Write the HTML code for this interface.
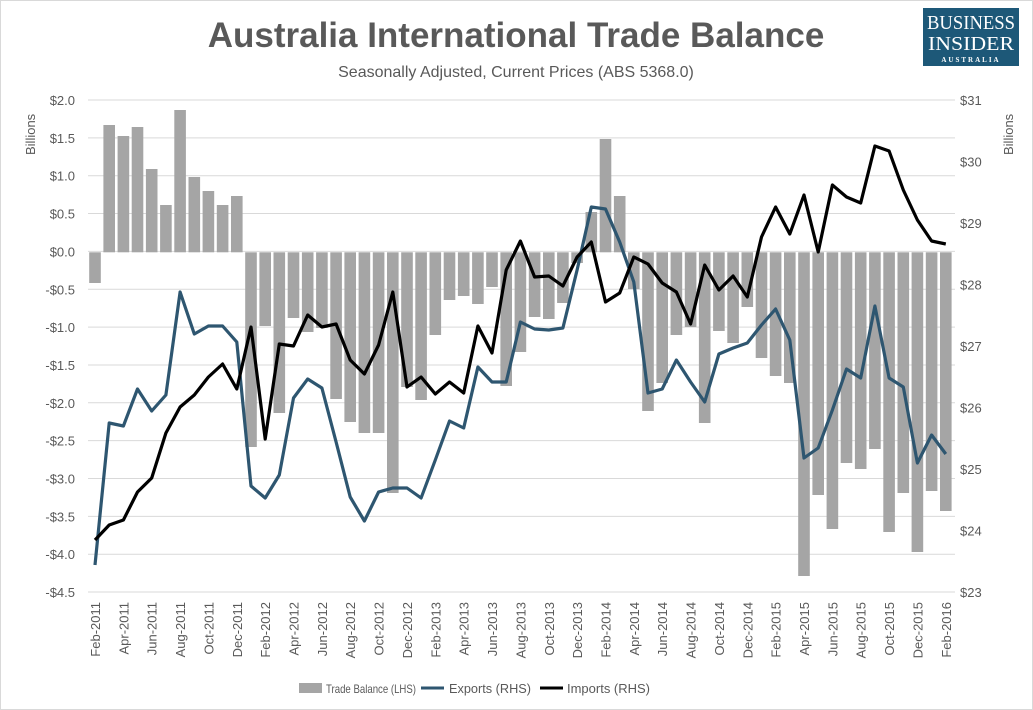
<!DOCTYPE html>
<html><head><meta charset="utf-8"><style>
html,body{margin:0;padding:0;background:#fff;}
svg{display:block;font-family:"Liberation Sans",sans-serif;}
</style></head><body>
<svg id="c" width="1033" height="710" viewBox="0 0 1033 710" xmlns="http://www.w3.org/2000/svg">
<rect x="0.5" y="0.5" width="1032" height="709" fill="#fff" stroke="#d9d9d9"/>
<text x="516" y="47" text-anchor="middle" font-size="35" font-weight="bold" fill="#595959">Australia International Trade Balance</text>
<text x="516" y="77" text-anchor="middle" font-size="16" fill="#595959">Seasonally Adjusted, Current Prices (ABS 5368.0)</text>
<rect x="923" y="8" width="96" height="58" fill="#1d5878"/>
<text x="971" y="29" text-anchor="middle" font-family="Liberation Serif,serif" font-size="20" textLength="88" lengthAdjust="spacingAndGlyphs" fill="#fff">BUSINESS</text>
<text x="971" y="50" text-anchor="middle" font-family="Liberation Serif,serif" font-size="20" textLength="86" lengthAdjust="spacingAndGlyphs" fill="#fff">INSIDER</text>
<text x="971" y="62" text-anchor="middle" font-family="Liberation Serif,serif" font-size="7" letter-spacing="2" font-weight="bold" fill="#fff">AUSTRALIA</text>
<text transform="translate(35,155) rotate(-90)" font-size="13" fill="#595959">Billions</text>
<text transform="translate(1013,155) rotate(-90)" font-size="13" fill="#595959">Billions</text>
<g id="g"></g>
<g font-size="13" fill="#595959">
<rect x="299" y="683" width="23" height="10" fill="#a5a5a5"/><text x="326" y="693" font-size="12" textLength="90" lengthAdjust="spacingAndGlyphs">Trade Balance (LHS)</text>
<line x1="421" y1="688" x2="444" y2="688" stroke="#2e5670" stroke-width="3"/><text x="449" y="693" textLength="82" lengthAdjust="spacingAndGlyphs">Exports (RHS)</text>
<line x1="540" y1="688" x2="563" y2="688" stroke="#000" stroke-width="3"/><text x="567" y="693" textLength="83" lengthAdjust="spacingAndGlyphs">Imports (RHS)</text>
</g>
</svg>
<script>
var g=document.getElementById('g'),h='';
var L=['$2.0','$1.5','$1.0','$0.5','$0.0','-$0.5','-$1.0','-$1.5','-$2.0','-$2.5','-$3.0','-$3.5','-$4.0','-$4.5'];
for(var k=0;k<14;k++){var y=100+k*37.85;h+='<line x1="88" x2="955" y1="'+y+'" y2="'+y+'" stroke="#d9d9d9"/>';
h+='<text x="75" y="'+(y+5)+'" text-anchor="end" font-size="13" fill="#595959">'+L[k]+'</text>';}
for(var k=0;k<9;k++){var y=100+k*61.5;h+='<text x="960" y="'+(y+5)+'" font-size="13" fill="#595959">$'+(31-k)+'</text>';}
var B=[283,125,136,127,169,205,110,177,191,205,196,447,326,413,318,332,328,399,422,433,433,493,387,400,335,300,296,304,287,386,352,317,319,303,263,212,139,196,289,411,383,335,327,423,331,343,307,358,376,383,576,495,529,463,469,449,532,493,552,491,511];
var E=[565,423,426,389,411,395,292,334,326,326,342,486,498,475,398,379,388,442,497,521,492,488,488,498,460,421,428,367,382,382,322,329,330,328,270,207,209,242,282,393,389,360,382,402,354,348,343,325,309,340,458,448,410,369,378,306,378,387,463,435,454];
var I=[540,525,520,492,478,433,407,395,377,364,389,327,439,344,346,315,327,324,360,374,345,292,387,377,394,382,393,326,353,270,241,277,276,286,257,242,302,293,257,264,283,292,324,265,290,276,297,237,207,234,195,252,185,197,203,146,151,190,220,241,244];
var z=252.3,M=['Feb','Mar','Apr','May','Jun','Jul','Aug','Sep','Oct','Nov','Dec','Jan'];
for(var i=0;i<61;i++){var x=95+i*14.18,t=Math.min(B[i],z),hh=Math.abs(B[i]-z);
h+='<rect x="'+(x-5.8).toFixed(1)+'" y="'+t+'" width="11.6" height="'+hh.toFixed(1)+'" fill="#a5a5a5"/>';}
function pl(a,c){var p=a.map(function(v,i){return (95+i*14.18).toFixed(1)+','+v}).join(' ');return '<polyline points="'+p+'" fill="none" stroke="'+c+'" stroke-width="3.2" stroke-linejoin="round"/>';}
h+=pl(E,'#2e5670')+pl(I,'#000');
for(var i=0;i<61;i+=2){var x=95+i*14.18,mi=i%12,yr=2011+Math.floor((i+1)/12);
h+='<text transform="translate('+(x+5)+',602) rotate(-90)" text-anchor="end" font-size="13" fill="#595959">'+M[mi]+'-'+yr+'</text>';}
g.innerHTML=h;
</script>
</body></html>
